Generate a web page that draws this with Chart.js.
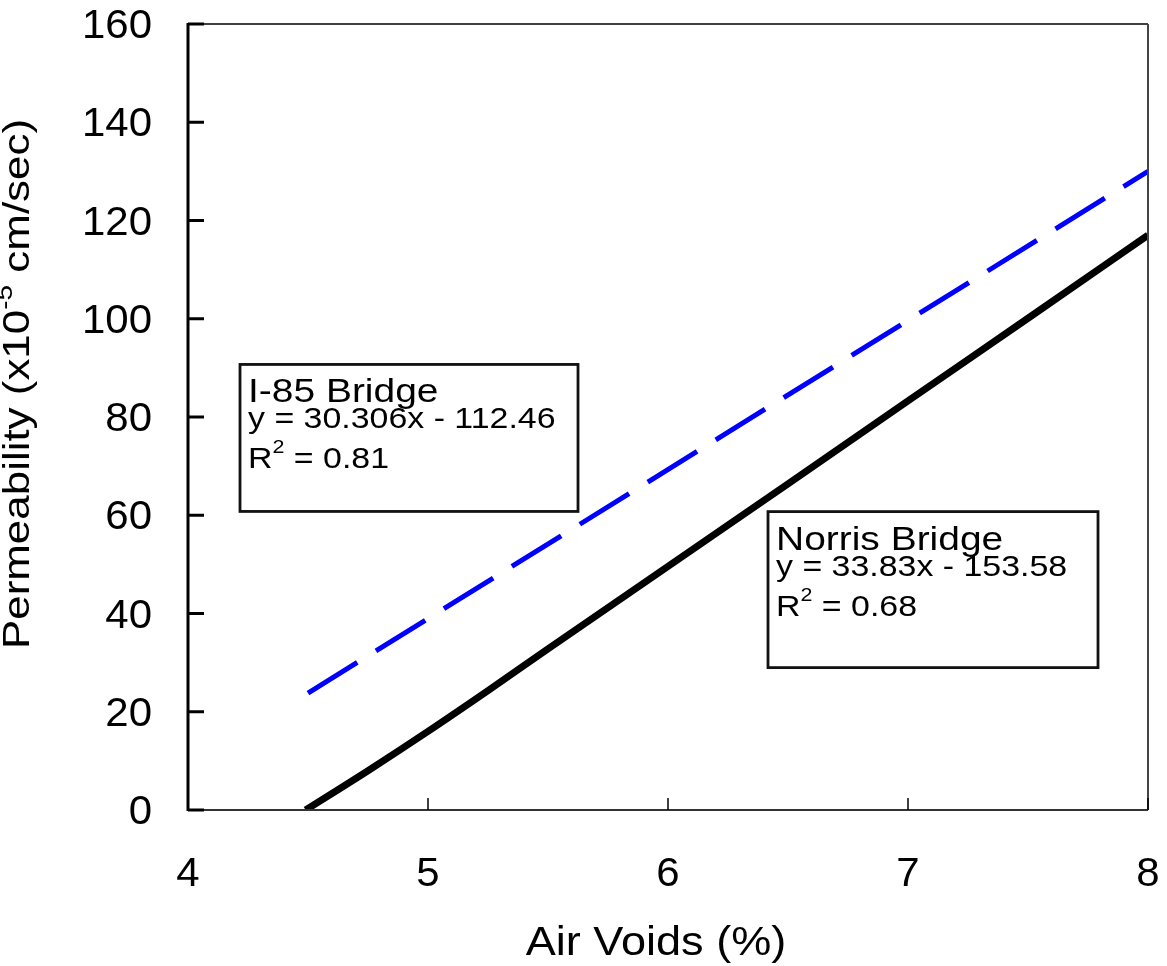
<!DOCTYPE html>
<html>
<head>
<meta charset="utf-8">
<script src="https://cdn.jsdelivr.net/npm/chart.js@4"></script>
<style>
  html, body { margin: 0; padding: 0; background: #fff; }
  #wrap { width: 1167px; height: 966px; }
</style>
</head>
<body>
<div id="wrap"><canvas id="permChart" width="1167" height="966"></canvas></div>
<script>
// Values
const norrisX = [4.49, 4.75, 5.0, 5.25, 5.5, 6.0, 6.5, 7.0, 7.5, 8.0];
const norrisY = [0, 8.0, 16.0, 24.3, 32.8, 49.6, 66.4, 83.3, 100.1, 117];
const i85X = [4.5, 8.0];
const i85Y = [23.8, 130];
const xTicks = [4, 5, 6, 7, 8];
const yTicks = [0, 20, 40, 60, 80, 100, 120, 140, 160];

const xTitle = 'Air Voids (%)';
const yTitle = ['Permeability (x10', '-5', ' cm/sec)'];
const i85Lines = ['I-85 Bridge', 'y = 30.306x - 112.46', '0.81'];
const norrisLines = ['Norris Bridge', 'y = 33.83x - 153.58', '0.68'];

const FONT = "'Liberation Sans', Arial, sans-serif";

function toPoints(xs, ys) {
    return xs.map((x, i) => ({ x: x, y: ys[i] }));
}

// draw text stretched horizontally around an anchor
function drawText(ctx, text, x, y, size, sx, align) {
    ctx.save();
    ctx.translate(x, y);
    ctx.scale(sx, 1);
    ctx.font = size + 'px ' + FONT;
    ctx.textAlign = align || 'left';
    ctx.textBaseline = 'alphabetic';
    ctx.fillText(text, 0, 0);
    ctx.restore();
}

function textWidth(ctx, text, size, sx) {
    ctx.font = size + 'px ' + FONT;
    return ctx.measureText(text).width * sx;
}

// equation box: title, equation, R^2 line
function drawBox(ctx, box, lines) {
    ctx.save();
    ctx.fillStyle = '#fff';
    ctx.fillRect(box.x, box.y, box.w, box.h);
    ctx.strokeStyle = '#111';
    ctx.lineWidth = 2.8;
    ctx.strokeRect(box.x, box.y, box.w, box.h);
    ctx.fillStyle = '#000';
    const tx = box.x + 8;
    drawText(ctx, lines[0], tx, box.y + 38, 33, 1.18);
    drawText(ctx, lines[1], tx, box.y + 64, 30, 1.13);
    const ry = box.y + 104;
    drawText(ctx, 'R', tx, ry, 30, 1.13);
    let cx = tx + textWidth(ctx, 'R', 30, 1.13);
    drawText(ctx, '2', cx, ry - 15, 19, 1.13);
    cx += textWidth(ctx, '2', 19, 1.13);
    drawText(ctx, ' = ' + lines[2], cx, ry, 30, 1.13);
    ctx.restore();
}

const framePlugin = {
    id: 'frame',
    afterDatasetsDraw(chart) {
        const ctx = chart.ctx;
        const xs = chart.scales.x, ys = chart.scales.y;
        const L = xs.left, R = xs.right, T = ys.top, B = ys.bottom;
        ctx.save();
        ctx.lineCap = 'butt';

        // frame
        ctx.strokeStyle = '#000';
        ctx.lineWidth = 1.5;
        ctx.beginPath(); ctx.moveTo(L, T); ctx.lineTo(R, T); ctx.stroke();
        ctx.strokeStyle = '#444';
        ctx.lineWidth = 2;
        ctx.beginPath(); ctx.moveTo(R, T); ctx.lineTo(R, B); ctx.stroke();
        ctx.strokeStyle = '#333';
        ctx.beginPath(); ctx.moveTo(L, B); ctx.lineTo(R, B); ctx.stroke();
        ctx.strokeStyle = '#000';
        ctx.lineWidth = 3;
        ctx.beginPath(); ctx.moveTo(L, T - 1); ctx.lineTo(L, B + 1); ctx.stroke();

        // inward ticks
        yTicks.forEach(v => {
            const py = ys.getPixelForValue(v);
            ctx.lineWidth = 3;
            ctx.beginPath(); ctx.moveTo(L, py); ctx.lineTo(L + 16, py); ctx.stroke();
        });
        xTicks.forEach(v => {
            const px = xs.getPixelForValue(v);
            ctx.lineWidth = 1.5;
            ctx.beginPath(); ctx.moveTo(px, B); ctx.lineTo(px, B - 12); ctx.stroke();
        });

        // tick labels
        ctx.fillStyle = '#000';
        yTicks.forEach(v => {
            const py = ys.getPixelForValue(v);
            drawText(ctx, String(v), L - 36, py + 14, 40, 1.05, 'right');
        });
        xTicks.forEach(v => {
            const px = xs.getPixelForValue(v);
            drawText(ctx, String(v), px, B + 76, 40, 1.05, 'center');
        });

        // axis titles
        drawText(ctx, xTitle, 656, 955, 41, 1.1, 'center');

        const ySize = 36, ySup = 23, ysx = 1.22;
        const w0 = textWidth(ctx, yTitle[0], ySize, ysx);
        const w1 = textWidth(ctx, yTitle[1], ySup, ysx);
        const w2 = textWidth(ctx, yTitle[2], ySize, ysx);
        ctx.save();
        ctx.translate(29, 384);
        ctx.rotate(-Math.PI / 2);
        let sx0 = -(w0 + w1 + w2) / 2;
        drawText(ctx, yTitle[0], sx0, 0, ySize, ysx);
        drawText(ctx, yTitle[1], sx0 + w0, -17, ySup, ysx);
        drawText(ctx, yTitle[2], sx0 + w0 + w1, 0, ySize, ysx);
        ctx.restore();

        // equation boxes, anchored at data coordinates
        drawBox(ctx, { x: xs.getPixelForValue(4.2167), y: ys.getPixelForValue(90.7), w: 338, h: 147 }, i85Lines);
        drawBox(ctx, { x: xs.getPixelForValue(6.4167), y: ys.getPixelForValue(60.74), w: 330, h: 156 }, norrisLines);

        ctx.restore();
    }
};

new Chart(document.getElementById('permChart'), {
    type: 'line',
    data: {
        datasets: [
            {
                label: 'I-85 Bridge',
                data: toPoints(i85X, i85Y),
                borderColor: '#0000ff',
                borderWidth: 5,
                borderDash: [58, 22],
                pointRadius: 0,
                tension: 0,
                fill: false
            },
            {
                label: 'Norris Bridge',
                data: toPoints(norrisX, norrisY),
                borderColor: '#000000',
                borderWidth: 7,
                pointRadius: 0,
                cubicInterpolationMode: 'monotone',
                fill: false
            }
        ]
    },
    options: {
        responsive: false,
        animation: false,
        devicePixelRatio: 1,
        layout: { padding: { top: 24, right: 19, left: 0, bottom: 0 } },
        plugins: {
            legend: { display: false },
            tooltip: { enabled: false }
        },
        scales: {
            x: {
                type: 'linear',
                min: 4,
                max: 8,
                ticks: { display: false, stepSize: 1 },
                grid: { display: false },
                border: { display: false },
                afterFit: s => { s.height = 156; }
            },
            y: {
                type: 'linear',
                min: 0,
                max: 160,
                ticks: { display: false, stepSize: 20 },
                grid: { display: false },
                border: { display: false },
                afterFit: s => { s.width = 188; }
            }
        }
    },
    plugins: [framePlugin]
});
</script>
</body>
</html>
